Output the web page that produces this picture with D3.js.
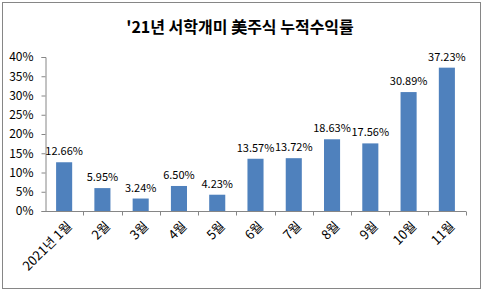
<!DOCTYPE html>
<html>
<head>
<meta charset="utf-8">
<script src="https://cdn.jsdelivr.net/npm/d3@7"></script>
<style>
  body { margin: 0; background: #fff; }
  text { font-family: "Noto Sans CJK KR", "Noto Sans", sans-serif; }
</style>
</head>
<body>
<div id="chart"></div>
<script>
// '21년 서학개미 美주식 누적수익률
const months = ['2021년 1월', '2월', '3월', '4월', '5월', '6월', '7월', '8월', '9월', '10월', '11월'];
const returns = [12.66, 5.95, 3.24, 6.50, 4.23, 13.57, 13.72, 18.63, 17.56, 30.89, 37.23];
const yTicks = [0, 5, 10, 15, 20, 25, 30, 35, 40];

const width = 483;
const height = 291;
const margin = { top: 57, right: 17, bottom: 80, left: 45 };

const svg = d3.select('#chart')
  .append('svg')
  .attr('width', width)
  .attr('height', height);

// outer frame
svg.append('rect')
  .attr('x', 2.5)
  .attr('y', 2.5)
  .attr('width', width - 5)
  .attr('height', height - 5)
  .attr('fill', 'white')
  .attr('stroke', '#868686')
  .attr('stroke-width', 1);

svg.append('text')
  .attr('x', 240)
  .attr('y', 33)
  .attr('text-anchor', 'middle')
  .attr('font-size', '16px')
  .attr('font-weight', 'bold')
  .attr('fill', '#000')
  .text("'21년 서학개미 美주식 누적수익률");

const x = d3.scaleBand()
  .domain(months)
  .range([margin.left, width - margin.right])
  .paddingInner(0.58)
  .paddingOuter(0.29);

const y = d3.scaleLinear()
  .domain([0, 40])
  .range([height - margin.bottom, margin.top]);

// y axis
const yAxis = svg.append('g')
  .attr('transform', `translate(${margin.left + 0.5}, 0)`)
  .call(d3.axisLeft(y).tickValues(yTicks).tickFormat(d => d + '%').tickSize(4).tickPadding(8));

yAxis.select('.domain').attr('stroke', '#868686');
yAxis.selectAll('.tick line').attr('stroke', '#868686');
yAxis.selectAll('.tick text')
  .attr('font-size', '12px')
  .attr('fill', '#000')
  .attr('font-family', '"Noto Sans", sans-serif');

// bars
svg.append('g')
  .selectAll('rect')
  .data(returns)
  .join('rect')
  .attr('x', (d, i) => x(months[i]))
  .attr('y', d => y(d))
  .attr('width', x.bandwidth())
  .attr('height', d => y(0) - y(d))
  .attr('fill', '#4F81BD');

// value labels
svg.append('g')
  .selectAll('text')
  .data(returns)
  .join('text')
  .attr('x', (d, i) => x(months[i]) + x.bandwidth() / 2)
  .attr('y', d => y(d) - 7)
  .attr('text-anchor', 'middle')
  .attr('font-size', '11px')
  .attr('fill', '#000')
  .attr('font-family', '"Noto Sans", sans-serif')
  .text(d => d.toFixed(2) + '%');

// x axis line and tick marks at category boundaries
const x0 = y(0) + 0.5;
const xAxis = svg.append('g');
xAxis.append('line')
  .attr('x1', margin.left)
  .attr('x2', width - margin.right)
  .attr('y1', x0)
  .attr('y2', x0)
  .attr('stroke', '#868686');

const step = (width - margin.right - margin.left) / months.length;
xAxis.selectAll('line.tick')
  .data(months)
  .join('line')
  .attr('class', 'tick')
  .attr('x1', (d, i) => Math.round(margin.left + (i + 1) * step) + 0.5)
  .attr('x2', (d, i) => Math.round(margin.left + (i + 1) * step) + 0.5)
  .attr('y1', x0)
  .attr('y2', x0 + 4)
  .attr('stroke', '#868686');

// rotated category labels
xAxis.selectAll('text')
  .data(months)
  .join('text')
  .attr('transform', d => `translate(${x(d) + x.bandwidth() / 2 + 6}, ${x0 + 13}) rotate(-45)`)
  .attr('text-anchor', 'end')
  .attr('dominant-baseline', 'middle')
  .attr('font-size', '13px')
  .attr('fill', '#000')
  .text(d => d);
</script>
</body>
</html>
